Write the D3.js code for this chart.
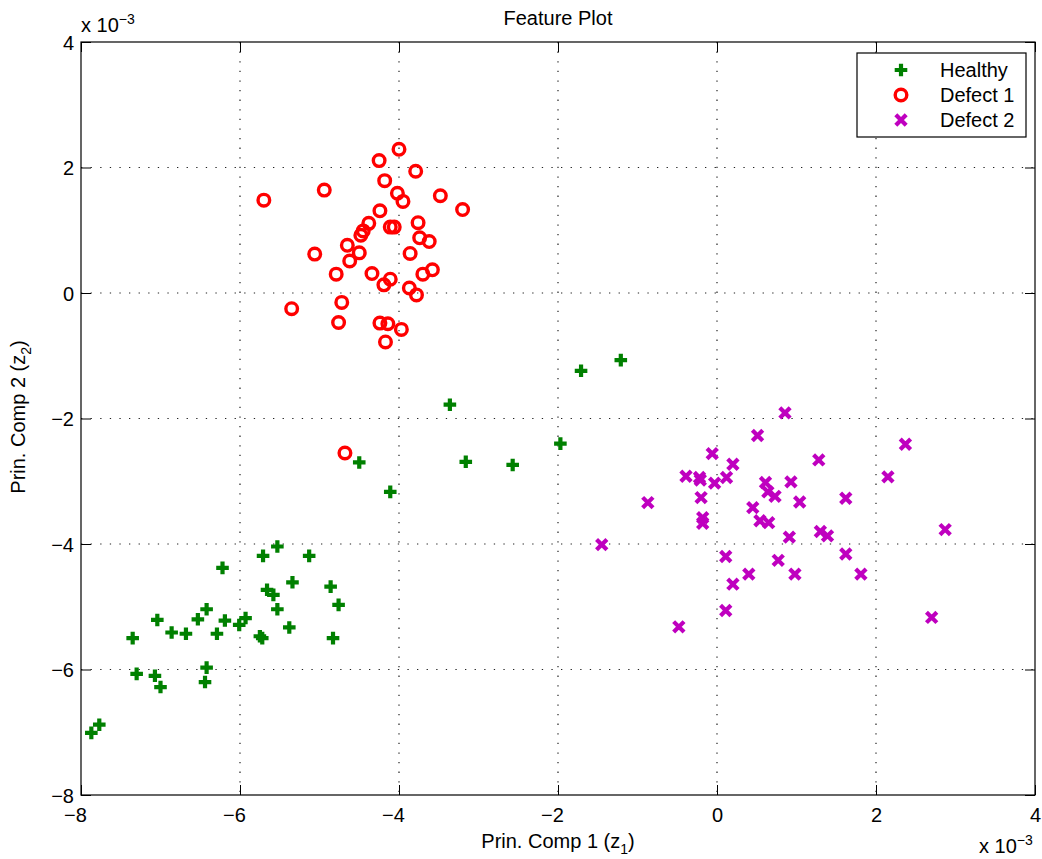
<!DOCTYPE html>
<html><head><meta charset="utf-8">
<script src="https://cdn.jsdelivr.net/npm/d3@7"></script>
<style>body{margin:0;background:#fff;} text{font-family:"Liberation Sans",Arial,sans-serif;}</style>
</head><body>
<svg id="c" width="1042" height="859"></svg>
<script>
const xTicks = [-8,-6,-4,-2,0,2,4];
const yTicks = [-8,-6,-4,-2,0,2,4];
const seriesNames = ["Healthy","Defect 1","Defect 2"];
const healthyX = [-7.87,-7.77,-7.35,-7.30,-7.04,-7.07,-7.00,-6.86,-6.68,-6.53,-6.42,-6.29,-6.42,-6.44,-6.22,-6.19,-6.01,-5.93,-5.75,-5.72,-5.71,-5.53,-5.66,-5.58,-5.53,-5.34,-5.38,-5.13,-4.86,-4.76,-4.83,-4.50,-4.11,-3.36,-3.16,-2.57,-1.97,-1.71,-1.21];
const healthyY = [-7.01,-6.88,-5.50,-6.07,-5.21,-6.10,-6.28,-5.41,-5.43,-5.20,-5.04,-5.43,-5.97,-6.20,-4.38,-5.22,-5.29,-5.18,-5.47,-5.50,-4.19,-4.04,-4.73,-4.81,-5.04,-4.61,-5.33,-4.19,-4.68,-4.97,-5.50,-2.70,-3.17,-1.78,-2.69,-2.74,-2.40,-1.24,-1.07];
const defect1X = [-5.70,-4.94,-4.25,-4.00,-3.79,-4.18,-4.02,-3.95,-3.48,-3.20,-4.24,-4.38,-4.45,-4.48,-4.11,-4.06,-3.76,-3.74,-3.62,-4.65,-4.50,-4.62,-3.86,-5.06,-4.79,-4.34,-4.11,-4.19,-3.70,-3.58,-3.87,-3.78,-4.72,-5.35,-4.76,-4.24,-4.14,-3.97,-4.17,-4.68];
const defect1Y = [1.48,1.64,2.11,2.29,1.94,1.79,1.59,1.46,1.55,1.33,1.31,1.11,0.99,0.92,1.05,1.05,1.12,0.88,0.82,0.76,0.64,0.51,0.63,0.62,0.30,0.31,0.22,0.13,0.30,0.37,0.08,-0.03,-0.15,-0.25,-0.47,-0.48,-0.49,-0.58,-0.78,-2.55];
const defect2X = [0.855,0.51,2.37,1.28,-0.06,0.20,2.15,-0.39,-0.22,-0.21,-0.03,0.12,0.61,0.93,0.64,0.73,-0.20,1.04,1.62,-0.87,0.45,-0.18,-0.18,0.54,0.65,1.30,1.39,0.91,2.87,-1.45,0.11,1.62,0.77,0.40,0.98,1.81,0.20,0.11,2.70,-0.48];
const defect2Y = [-1.91,-2.27,-2.41,-2.66,-2.56,-2.73,-2.93,-2.92,-2.94,-2.98,-3.03,-2.94,-3.02,-3.01,-3.17,-3.24,-3.26,-3.33,-3.27,-3.34,-3.42,-3.58,-3.67,-3.63,-3.66,-3.80,-3.87,-3.89,-3.77,-4.01,-4.20,-4.16,-4.26,-4.48,-4.48,-4.48,-4.64,-5.06,-5.17,-5.32];

const L=81, R=1035, T=42, B=795;
const FS = 20;
const svg = d3.select("#c");
const x = d3.scaleLinear().domain([-8,4]).range([L,R]);
const y = d3.scaleLinear().domain([-8,4]).range([B,T]);

// grid
const g = svg.append("g");
xTicks.forEach(t=>{ if(t>-8&&t<4) g.append("line").attr("x1",x(t)).attr("x2",x(t)).attr("y1",T).attr("y2",B).attr("stroke","#222").attr("stroke-width",1.2).attr("stroke-dasharray","1.3,8.3"); });
yTicks.forEach(t=>{ if(t>-8&&t<4) g.append("line").attr("x1",L).attr("x2",R).attr("y1",y(t)).attr("y2",y(t)).attr("stroke","#222").attr("stroke-width",1.2).attr("stroke-dasharray","1.3,8.3"); });

// axes
const fmt = d3.format("d");
const ax = svg.append("g").attr("transform",`translate(0,${B})`).call(d3.axisBottom(x).tickValues(xTicks).tickSize(-10).tickFormat(fmt));
const ax2 = svg.append("g").attr("transform",`translate(0,${T})`).call(d3.axisTop(x).tickValues(xTicks).tickSize(-10).tickFormat(""));
const ay = svg.append("g").attr("transform",`translate(${L},0)`).call(d3.axisLeft(y).tickValues(yTicks).tickSize(-10).tickFormat(fmt));
const ay2 = svg.append("g").attr("transform",`translate(${R},0)`).call(d3.axisRight(y).tickValues(yTicks).tickSize(-10).tickFormat(""));
[ax,ax2,ay,ay2].forEach(a=>{ a.select(".domain").remove(); a.selectAll("line").attr("stroke","#000"); a.selectAll("text").attr("font-size",FS+"px").attr("fill","#000").style("font-family","Liberation Sans, Arial, sans-serif"); });
ax.selectAll("text").attr("y",27).attr("dy",0).attr("dx",d=>d<0?-6:0);
ay.selectAll("text").attr("x",-7).attr("dy","0.35em");
svg.append("rect").attr("x",L).attr("y",T).attr("width",R-L).attr("height",B-T).attr("fill","none").attr("stroke","#000").attr("stroke-width",1.2);

// markers
const cGreen="#008000", cRed="#ff0000", cMag="#bf00bf";
function plus(sel,cx,cy){ const s=6.3; sel.append("path").attr("d",`M${cx-s},${cy}H${cx+s}M${cx},${cy-s}V${cy+s}`).attr("stroke",cGreen).attr("stroke-width",4.2).attr("fill","none"); }
function circ(sel,cx,cy){ sel.append("circle").attr("cx",cx).attr("cy",cy).attr("r",5.8).attr("stroke",cRed).attr("stroke-width",3.4).attr("fill","none"); }
function cross(sel,cx,cy){ const s=5.2; sel.append("path").attr("d",`M${cx-s},${cy-s}L${cx+s},${cy+s}M${cx-s},${cy+s}L${cx+s},${cy-s}`).attr("stroke",cMag).attr("stroke-width",4.2).attr("fill","none"); }
const mk = svg.append("g");
healthyX.forEach((v,i)=>plus(mk,x(v),y(healthyY[i])));
defect1X.forEach((v,i)=>circ(mk,x(v),y(defect1Y[i])));
defect2X.forEach((v,i)=>cross(mk,x(v),y(defect2Y[i])));

// legend
const lg = svg.append("g");
lg.append("rect").attr("x",857).attr("y",53).attr("width",169).attr("height",84).attr("fill","#fff").attr("stroke","#000").attr("stroke-width",1.2);
const rows=[70,95,120];
plus(lg,901,rows[0]); circ(lg,901,rows[1]); cross(lg,901,rows[2]);
seriesNames.forEach((n,i)=>lg.append("text").attr("x",940).attr("y",rows[i]).attr("dy","0.35em").attr("font-size",FS+"px").text(n));

// titles
svg.append("text").attr("x",558).attr("y",25).attr("text-anchor","middle").attr("font-size","20px").text("Feature Plot");
const xl = svg.append("text").attr("x",558).attr("y",848).attr("text-anchor","middle").attr("font-size",FS+"px");
xl.append("tspan").text("Prin. Comp 1 (z");
xl.append("tspan").attr("font-size","14px").attr("dy",6).text("1");
xl.append("tspan").attr("dy",-6).text(")");
const yl = svg.append("text").attr("transform","translate(25,417) rotate(-90)").attr("text-anchor","middle").attr("font-size",FS+"px");
yl.append("tspan").text("Prin. Comp 2 (z");
yl.append("tspan").attr("font-size","14px").attr("dy",6).text("2");
yl.append("tspan").attr("dy",-6).text(")");
// exponent labels
function expo(xp,yp){ const t=svg.append("text").attr("x",xp).attr("y",yp).attr("font-size",FS+"px"); t.append("tspan").text("x 10"); t.append("tspan").attr("font-size","14px").attr("dy",-8).text("\u22123"); }
expo(81,32);
expo(979,853);
</script>
</body></html>
